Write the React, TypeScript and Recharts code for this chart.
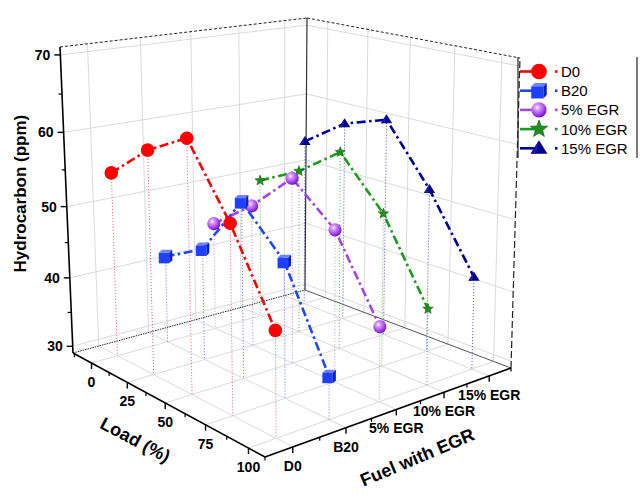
import React from 'react';
import { ScatterChart, Scatter, XAxis, YAxis } from 'recharts';

// ---------------- data ----------------
const LOADS = [0, 25, 50, 75, 100];
const LOAD_LABELS = ['0', '25', '50', '75', '100'];
const FUELS = ['D0', 'B20', '5% EGR', '10% EGR', '15% EGR'];
const HC_D0 = [54.9, 59.6, 62.7, 54.0, 42.9];
const HC_B20 = [41.7, 44.9, 53.3, 47.5, 34.8];
const HC_EGR5 = [44.9, 49.4, 55.0, 50.0, 39.3];
const HC_EGR10 = [49.8, 52.9, 57.2, 50.6, 39.7];
const HC_EGR15 = [54.3, 58.4, 60.4, 52.4, 42.2];
const HC_TICKS = [30, 40, 50, 60, 70];
const HC_MINOR = [35, 45, 55, 65];
const LOAD_MINOR = [-12.5, 12.5, 37.5, 62.5, 87.5];
const FUEL_MINOR = [-0.5, 0.5, 1.5, 2.5, 3.5, 4.5];

// ---------------- 3D frame (axis ranges + camera frame) ----------------
const W = 640;
const H = 502;
const LOAD_MIN = -13.5, LOAD_MAX = 109.2;
const FUEL_MIN = -0.5, FUEL_MAX = 4.5;
const HC_MIN = 29, HC_MAX = 71;
// screen frame of the box: left, front, right, back corners (floor, then top)
const FLOOR = [[73, 353], [265, 457], [511, 368], [305, 290]];
const TOP = [[60, 47], [262, 102], [520, 58], [307, 18]];
const DEPTH = [1, 0.862, 0.987, 1.125];
const TOP_DEPTH = 0.917;

function project(load: number, fuel: number, hc: number) {
  const u = (load - LOAD_MIN) / (LOAD_MAX - LOAD_MIN);
  const v = (fuel - FUEL_MIN) / (FUEL_MAX - FUEL_MIN);
  const t = (hc - HC_MIN) / (HC_MAX - HC_MIN);
  const b = [(1 - u) * (1 - v), u * (1 - v), u * v, (1 - u) * v];
  let nx = 0, ny = 0, den = 0;
  for (let i = 0; i < 4; i++) {
    const wb = DEPTH[i] * b[i] * (1 - t);
    const wt = DEPTH[i] * TOP_DEPTH * b[i] * t;
    nx += wb * FLOOR[i][0] + wt * TOP[i][0];
    ny += wb * FLOOR[i][1] + wt * TOP[i][1];
    den += wb + wt;
  }
  return { x: nx / den, y: ny / den };
}

const FONT = "'Liberation Sans', Arial, Helvetica, sans-serif";

// ---------------- marker shapes ----------------
function starPoints(cx: number, cy: number, R: number, r: number) {
  const pts: string[] = [];
  for (let i = 0; i < 10; i++) {
    const a = -Math.PI / 2 + (i * Math.PI) / 5;
    const rr = i % 2 === 0 ? R : r;
    pts.push(`${cx + rr * Math.cos(a)},${cy + rr * Math.sin(a)}`);
  }
  return pts.join(' ');
}

type MarkerKind = 'circle' | 'cube' | 'sphere' | 'star' | 'triangle';

function drawMarker(kind: MarkerKind, cx: number, cy: number, s: number, color: string) {
  if (kind === 'circle') return <circle cx={cx} cy={cy} r={6.8 * s} fill={color} />;
  if (kind === 'sphere') return <circle cx={cx} cy={cy} r={6.6 * s} fill="url(#sphereGrad)" />;
  if (kind === 'star') return <polygon points={starPoints(cx, cy, 5.4 * s, 2.3 * s)} fill={color} stroke="#0b5e0b" strokeWidth={0.6} />;
  if (kind === 'triangle') {
    const hw = 5.6 * s, h = 9 * s;
    return (
      <g>
        <polygon
          points={`${cx},${cy - h * 0.6} ${cx - hw},${cy + h * 0.4} ${cx + hw},${cy + h * 0.4}`}
          fill={color}
        />
        <polygon
          points={`${cx},${cy - h * 0.6} ${cx - hw * 0.35},${cy + h * 0.4} ${cx - hw},${cy + h * 0.4}`}
          fill="#1a1ab0"
        />
      </g>
    );
  }
  // cube
  const sz = 10.5 * s, d = 3 * s;
  const x = cx - sz / 2 - d / 2, y = cy - sz / 2 + d / 2;
  return (
    <g>
      <polygon points={`${x},${y} ${x + d},${y - d} ${x + sz + d},${y - d} ${x + sz},${y}`} fill="#6a84ff" />
      <polygon points={`${x + sz},${y} ${x + sz + d},${y - d} ${x + sz + d},${y + sz - d} ${x + sz},${y + sz}`} fill="#0a24c0" />
      <rect x={x} y={y} width={sz} height={sz} fill={color} />
    </g>
  );
}

const SERIES = [
  { name: 'D0', values: HC_D0, fuel: 0, line: '#ff0000', drop: '#ff5a5a', marker: 'circle' as MarkerKind, fill: '#ff0000' },
  { name: 'B20', values: HC_B20, fuel: 1, line: '#1f45ff', drop: '#5a6cff', marker: 'cube' as MarkerKind, fill: '#1f3fff' },
  { name: '5% EGR', values: HC_EGR5, fuel: 2, line: '#a444e8', drop: '#c48af0', marker: 'sphere' as MarkerKind, fill: '#a040e8' },
  { name: '10% EGR', values: HC_EGR10, fuel: 3, line: '#1e9a1e', drop: '#58c058', marker: 'star' as MarkerKind, fill: '#1f8f1f' },
  { name: '15% EGR', values: HC_EGR15, fuel: 4, line: '#000099', drop: '#4a4ac8', marker: 'triangle' as MarkerKind, fill: '#00008b' },
];

// ---------------- layers ----------------
const Empty = () => <g />;

function buildLayers() {
  const out: React.ReactElement[] = [];
  let k = 0;
  const seg = (pts: { x: number; y: number }[], stroke: string, width: number, dash?: string) => {
    out.push(
      <Scatter
        key={`l${k++}`}
        data={pts}
        shape={Empty}
        line={{ stroke, strokeWidth: width, strokeDasharray: dash }}
        isAnimationActive={false}
      />
    );
  };
  const text = (
    items: { x: number; y: number; label: string }[],
    st: { dx: number; dy: number; anchor: string; size: number; weight: string; rotate?: number }
  ) => {
    const Shape = (p: any) => {
      const x = p.cx + st.dx, y = p.cy + st.dy;
      return (
        <text
          x={x}
          y={y}
          textAnchor={st.anchor}
          dominantBaseline="central"
          fontFamily={FONT}
          fontSize={st.size}
          fontWeight={st.weight}
          fill="#000"
          transform={st.rotate ? `rotate(${st.rotate} ${x} ${y})` : undefined}
        >
          {p.payload.label}
        </text>
      );
    };
    out.push(<Scatter key={`t${k++}`} data={items} shape={Shape} isAnimationActive={false} />);
  };

  const GRID = '#dadada';
  // floor grid
  LOADS.forEach((L) => seg([project(L, FUEL_MIN, HC_MIN), project(L, FUEL_MAX, HC_MIN)], GRID, 1));
  FUELS.forEach((_, f) => seg([project(LOAD_MIN, f, HC_MIN), project(LOAD_MAX, f, HC_MIN)], GRID, 1));
  // left wall (load min)
  FUELS.forEach((_, f) => seg([project(LOAD_MIN, f, HC_MIN), project(LOAD_MIN, f, HC_MAX)], GRID, 1));
  HC_TICKS.forEach((z) => seg([project(LOAD_MIN, FUEL_MIN, z), project(LOAD_MIN, FUEL_MAX, z)], GRID, 1));
  // back wall (fuel max)
  LOADS.forEach((L) => seg([project(L, FUEL_MAX, HC_MIN), project(L, FUEL_MAX, HC_MAX)], GRID, 1));
  HC_TICKS.forEach((z) => seg([project(LOAD_MIN, FUEL_MAX, z), project(LOAD_MAX, FUEL_MAX, z)], GRID, 1));

  // frame edges
  seg([project(LOAD_MIN, FUEL_MIN, HC_MIN), project(LOAD_MIN, FUEL_MAX, HC_MIN)], '#222', 1, '1.5 1');
  seg([project(LOAD_MIN, FUEL_MAX, HC_MIN), project(LOAD_MAX, FUEL_MAX, HC_MIN)], '#555', 1);
  seg([project(LOAD_MIN, FUEL_MAX, HC_MIN), project(LOAD_MIN, FUEL_MAX, HC_MAX)], '#333', 1.2);
  seg([project(LOAD_MIN, FUEL_MIN, HC_MAX), project(LOAD_MIN, FUEL_MAX, HC_MAX)], '#222', 1, '3 2');
  seg([project(LOAD_MIN, FUEL_MAX, HC_MAX), project(LOAD_MAX, FUEL_MAX, HC_MAX)], '#222', 1, '3 2');
  seg([project(LOAD_MAX, FUEL_MAX, HC_MIN), project(LOAD_MAX, FUEL_MAX, HC_MAX)], '#222', 1.2, '7 3');
  // axes
  seg([project(LOAD_MIN, FUEL_MIN, HC_MIN), project(LOAD_MIN, FUEL_MIN, HC_MAX)], '#000', 1.6);
  seg([project(LOAD_MIN, FUEL_MIN, HC_MIN), project(LOAD_MAX, FUEL_MIN, HC_MIN)], '#000', 1.6);
  seg([project(LOAD_MAX, FUEL_MIN, HC_MIN), project(LOAD_MAX, FUEL_MAX, HC_MIN)], '#000', 1.6);

  // ticks
  HC_TICKS.forEach((z) => { const p = project(LOAD_MIN, FUEL_MIN, z); seg([p, { x: p.x - 6, y: p.y }], '#000', 1.4); });
  HC_MINOR.forEach((z) => { const p = project(LOAD_MIN, FUEL_MIN, z); seg([p, { x: p.x - 3.5, y: p.y }], '#000', 1.2); });
  LOADS.forEach((L) => { const p = project(L, FUEL_MIN, HC_MIN); seg([p, { x: p.x, y: p.y + 6 }], '#000', 1.4); });
  LOAD_MINOR.forEach((L) => { const p = project(L, FUEL_MIN, HC_MIN); seg([p, { x: p.x, y: p.y + 3.5 }], '#000', 1.2); });
  FUELS.forEach((_, f) => { const p = project(LOAD_MAX, f, HC_MIN); seg([p, { x: p.x, y: p.y + 6 }], '#000', 1.4); });
  FUEL_MINOR.forEach((f) => { const p = project(LOAD_MAX, f, HC_MIN); seg([p, { x: p.x, y: p.y + 3.5 }], '#000', 1.2); });

  // tick labels
  text(HC_TICKS.map((z) => ({ ...project(LOAD_MIN, FUEL_MIN, z), label: String(z) })), { dx: -10, dy: 0, anchor: 'end', size: 14, weight: 'bold' });
  text(LOADS.map((L, i) => ({ ...project(L, FUEL_MIN, HC_MIN), label: LOAD_LABELS[i] })), { dx: 0, dy: 19, anchor: 'middle', size: 14, weight: 'bold' });
  text(FUELS.map((f, i) => ({ ...project(LOAD_MAX, i, HC_MIN), label: f })), { dx: 0, dy: 19, anchor: 'middle', size: 14, weight: 'bold' });

  // axis titles
  text([{ ...project(LOAD_MIN, FUEL_MIN, 50), label: 'Hydrocarbon (ppm)' }], { dx: -46, dy: -13, anchor: 'middle', size: 17, weight: 'bold', rotate: -90 });
  text([{ ...project(50, FUEL_MIN, HC_MIN), label: 'Load (%)' }], { dx: -30, dy: 37, anchor: 'middle', size: 18, weight: 'bold', rotate: 28 });
  text([{ ...project(LOAD_MAX, 2, HC_MIN), label: 'Fuel with EGR' }], { dx: 21, dy: 48, anchor: 'middle', size: 18, weight: 'bold', rotate: -23 });

  // drop lines
  SERIES.forEach((s) => {
    s.values.forEach((v, j) => {
      seg([project(LOADS[j], s.fuel, v), project(LOADS[j], s.fuel, HC_MIN)], s.drop, 1, '1 2');
    });
  });

  // series, back to front
  [...SERIES].reverse().forEach((s) => {
    const pts = s.values.map((v, j) => project(LOADS[j], s.fuel, v));
    const Shape = (p: any) => drawMarker(s.marker, p.cx, p.cy, 1, s.fill);
    out.push(
      <Scatter
        key={`s${k++}`}
        name={s.name}
        data={pts}
        shape={Shape}
        line={{ stroke: s.line, strokeWidth: 2.6, strokeDasharray: '9 3.5 2.5 3.5' }}
        isAnimationActive={false}
      />
    );
  });
  return out;
}

const LAYERS = buildLayers();

function LegendBox() {
  const x0 = 518, x1 = 637, yTop = 57, yBot = 158;
  return (
    <svg width={W} height={H} style={{ position: 'absolute', left: 0, top: 0, pointerEvents: 'none' }}>
      <defs>
        <radialGradient id="sphereGrad" cx="38%" cy="34%" r="70%">
          <stop offset="0%" stopColor="#fbeaff" />
          <stop offset="30%" stopColor="#cf8cff" />
          <stop offset="75%" stopColor="#9a34e6" />
          <stop offset="100%" stopColor="#6a12b0" />
        </radialGradient>
      </defs>
      <line x1={x0} y1={yTop} x2={x0} y2={yBot} stroke="#222" strokeWidth={1.2} />
      <line x1={x1} y1={yTop} x2={x1} y2={yBot} stroke="#222" strokeWidth={1.2} />
      {SERIES.map((s, i) => {
        const y = 71.5 + i * 19.2;
        return (
          <g key={s.name}>
            <line x1={520} y1={y} x2={540} y2={y} stroke={s.line} strokeWidth={2.6} />
            {drawMarker(s.marker, 539, y, s.marker === 'star' ? 1.7 : s.marker === 'triangle' ? 1.5 : 1.15, s.fill)}
            <line x1={555} y1={y} x2={557.5} y2={y} stroke={s.line} strokeWidth={2.6} />
            <text x={561} y={y} dominantBaseline="central" fontFamily={FONT} fontSize={15} fill="#000">
              {s.name}
            </text>
          </g>
        );
      })}
    </svg>
  );
}

export default function App() {
  return (
    <div style={{ position: 'relative', width: W, height: H, background: '#fff' }}>
      <style>{`body{margin:0;background:#fff}`}</style>
      <ScatterChart width={W} height={H} margin={{ top: 0, right: 0, bottom: 0, left: 0 }}>
        <XAxis type="number" dataKey="x" domain={[0, W]} hide allowDataOverflow />
        <YAxis type="number" dataKey="y" domain={[0, H]} reversed hide allowDataOverflow />
        {LAYERS}
      </ScatterChart>
      <LegendBox />
    </div>
  );
}
